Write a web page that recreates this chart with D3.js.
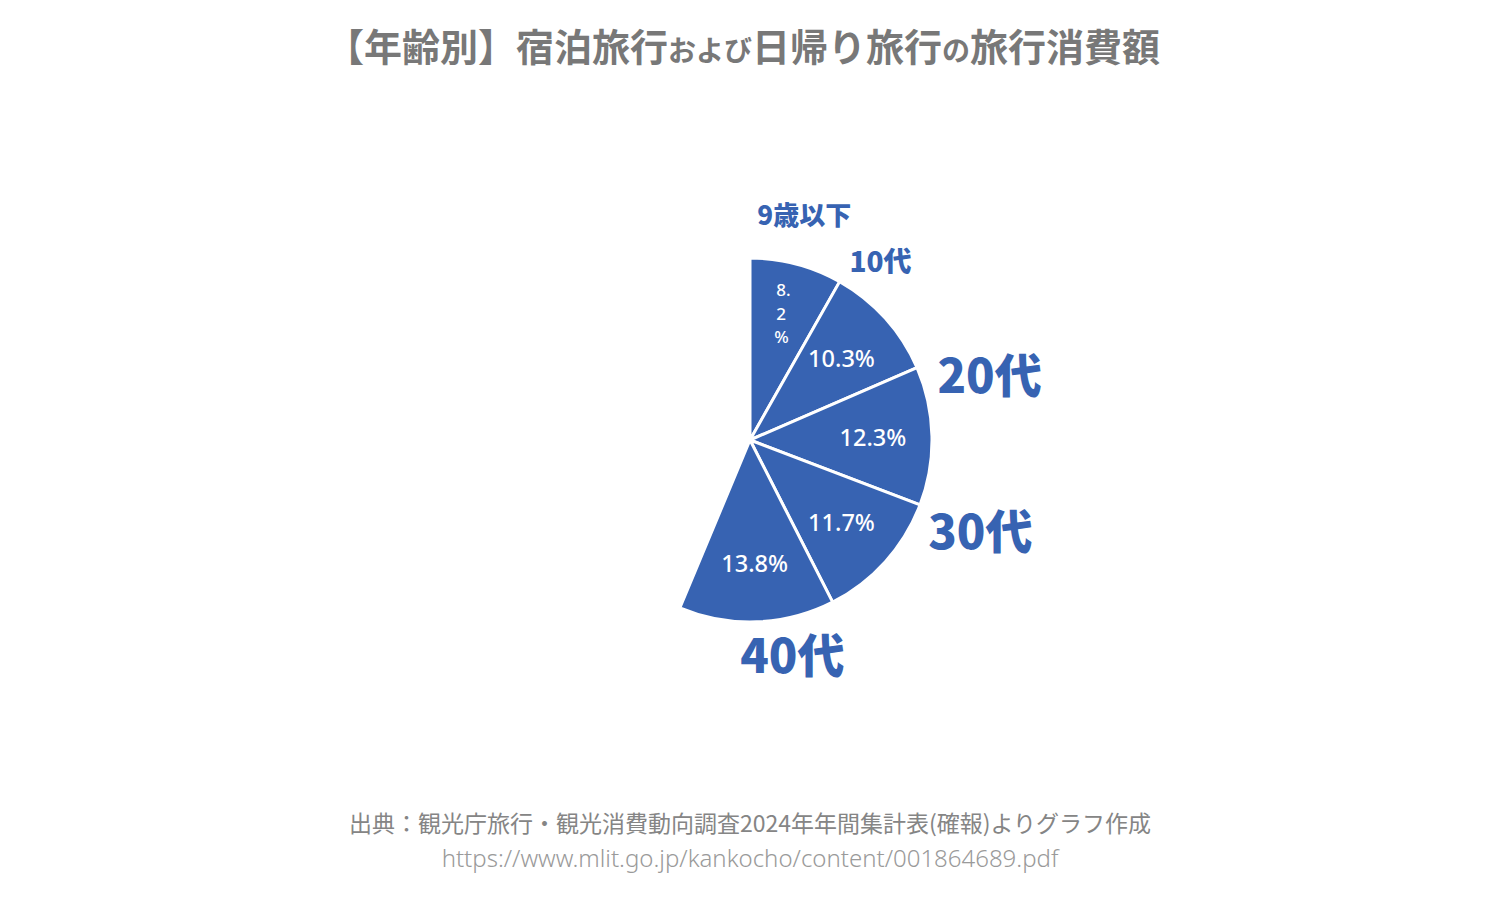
<!DOCTYPE html>
<html>
<head>
<meta charset="utf-8">
<script src="https://cdn.jsdelivr.net/npm/d3@7"></script>
<style>
  body { margin: 0; background: #fff; }
  text { font-family: "Noto Sans CJK JP", "Noto Sans", sans-serif; }
</style>
</head>
<body>
<div id="container"></div>
<script>
let w = 1500;
let h = 900;

// data
let ageGroups = ["9歳以下", "10代", "20代", "30代", "40代"];
let shares = [8.2, 10.3, 12.3, 11.7, 13.8]; // % of total spending

// label styling / placement (not data)
let labelSize = [26, 28, 47, 47, 47];
let labelFrac = [0.46, 0.18, 0.19, 0.02, 0.32]; // where along the slice the name sits
let labelDist = [231, 221, 248, 248, 220];

let cx = 750, cy = 440;
let radius = 182;
let blue = "#3763b2";

let viz = d3.select("#container")
  .append("svg")
    .attr("width", w)
    .attr("height", h)
    .style("background-color", "#fff")
;

// title, with the kana particles set smaller
let title = viz.append("text")
    .attr("x", w/2 - 7)
    .attr("y", 61)
    .attr("text-anchor", "middle")
    .attr("fill", "#787878")
    .style("font-weight", 700)
;
let titleParts = [["【年齢別】宿泊旅行", 38], ["および", 28], ["日帰り旅行", 38], ["の", 28], ["旅行消費額", 38]];
titleParts.forEach(p=>{
  title.append("tspan").text(p[0]).style("font-size", p[1]+"px");
});

let pie = d3.pie()
  .sort(null)
  .startAngle(0)
  .endAngle(2*Math.PI*d3.sum(shares)/100)
;
let slices = pie(shares);

let arc = d3.arc().innerRadius(0).outerRadius(radius);
let inner = d3.arc().innerRadius(123).outerRadius(123);

let g = viz.append("g").attr("transform", "translate("+cx+","+cy+")");

g.selectAll(".slice").data(slices).enter()
  .append("path")
    .attr("class", "slice")
    .attr("d", arc)
    .attr("fill", blue)
    .attr("stroke", "#fff")
    .attr("stroke-width", 3)
    .attr("stroke-linejoin", "round")
;

// percentage labels
let pct = g.selectAll(".pct").data(slices).enter()
  .append("text")
    .attr("class", "pct")
    .attr("transform", d=>"translate("+inner.centroid(d)+")")
    .attr("text-anchor", "middle")
    .attr("fill", "#fff")
    .style("font-family", "'Noto Sans', sans-serif")
    .style("font-weight", 500)
;
pct.each(function(d){
  let t = d3.select(this);
  let s = d.data.toFixed(1) + "%";
  if (d.data < 9) {
    // narrow slice: wrap the label into a column
    t.style("font-size", "17px").attr("text-anchor", "start");
    t.append("tspan").attr("x", -5).attr("y", -25).text(s.slice(0, 2));
    t.append("tspan").attr("x", -5).attr("y", -1.5).text(s[2]);
    t.append("tspan").attr("x", -7).attr("y", 22).text(s[3]);
  } else {
    t.style("font-size", "23.5px").attr("y", 9).text(s);
  }
});

// age group names outside
g.selectAll(".name").data(slices).enter()
  .append("text")
    .attr("class", "name")
    .attr("x", (d,i)=>{
      let a = d.startAngle + labelFrac[i]*(d.endAngle - d.startAngle);
      return Math.sin(a)*labelDist[i];
    })
    .attr("y", (d,i)=>{
      let a = d.startAngle + labelFrac[i]*(d.endAngle - d.startAngle);
      return -Math.cos(a)*labelDist[i];
    })
    .attr("dy", "0.36em")
    .attr("text-anchor", "middle")
    .attr("fill", blue)
    .style("font-size", (d,i)=>labelSize[i]+"px")
    .style("font-weight", 900)
    .text((d,i)=>ageGroups[i])
;

// source
viz.append("text")
    .attr("x", w/2)
    .attr("y", 832)
    .attr("text-anchor", "middle")
    .attr("fill", "#858585")
    .style("font-size", "23px")
    .text("出典：観光庁旅行・観光消費動向調査2024年年間集計表(確報)よりグラフ作成")
;
viz.append("text")
    .attr("x", w/2)
    .attr("y", 867)
    .attr("text-anchor", "middle")
    .attr("fill", "#9a9a9a")
    .style("font-family", "'Noto Sans', sans-serif")
    .style("font-weight", 300)
    .style("font-size", "24px")
    .text("https://www.mlit.go.jp/kankocho/content/001864689.pdf")
;
</script>
</body>
</html>
